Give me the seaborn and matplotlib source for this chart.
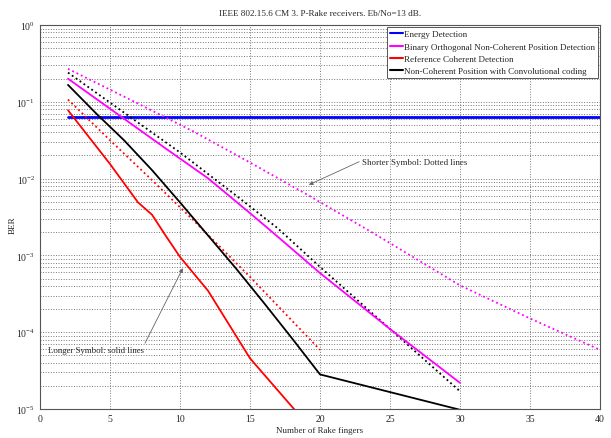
import matplotlib
matplotlib.use("Agg")
import matplotlib.pyplot as plt
from matplotlib.lines import Line2D
from matplotlib.ticker import LogLocator, FixedLocator
import seaborn as sns
import pandas as pd

# ---- data (BER vs number of rake fingers) ----
energy_x = [2, 40]
energy_ber = [0.063, 0.063]

bin_solid_x = [2, 5, 9, 12, 15, 17, 20, 25, 30]
bin_solid_ber = [0.2, 0.0813, 0.0245, 0.0101, 0.00355, 0.00174, 0.000589, 0.00011, 2.19e-5]

bin_dot_x = [2, 6, 11, 15, 19, 24, 27, 30, 35, 40]
bin_dot_ber = [0.269, 0.117, 0.0407, 0.0162, 0.00631, 0.00186, 0.000871, 0.000407, 0.000151, 5.89e-5]

ref_solid_x = [2, 5, 6, 7, 8, 9, 10, 12, 15, 20]
ref_solid_ber = [0.0776, 0.0155, 0.00871, 0.0049, 0.00339, 0.00178, 0.000955, 0.000347, 4.57e-5, 4.07e-6]

ref_dot_x = [2, 5, 8, 11, 15, 20]
ref_dot_ber = [0.107, 0.0316, 0.00955, 0.00282, 0.000525, 5.89e-5]

conv_solid_x = [2, 4, 6, 8, 10, 12, 14, 16, 18, 20, 30]
conv_solid_ber = [0.166, 0.0708, 0.0316, 0.0129, 0.0049, 0.00182, 0.000676, 0.00024, 8.32e-5, 2.82e-5, 9.77e-6]

conv_dot_x = [2, 6, 10, 14, 17, 20, 25, 30]
conv_dot_ber = [0.24, 0.0724, 0.0219, 0.00603, 0.00224, 0.000708, 0.00011, 1.7e-5]

legend_labels = ["Energy Detection",
                 "Binary Orthogonal Non-Coherent Position Detection",
                 "Reference Coherent Detection",
                 "Non-Coherent Position with Convolutional coding"]
colors = ["#0000ff", "#ff00ff", "#ff0000", "#000000"]

title = "IEEE 802.15.6 CM 3. P-Rake receivers. Eb/No=13 dB."
xlabel = "Number of Rake fingers"
ylabel = "BER"
x_ticks = [0, 5, 10, 15, 20, 25, 30, 35, 40]

# ---- style ----
sns.set_style("white")
plt.rcParams["font.family"] = ["Liberation Serif", "DejaVu Serif"]
plt.rcParams["mathtext.fontset"] = "stix"

fig = plt.figure(figsize=(6.11, 4.39), dpi=100)
ax = fig.add_axes([40 / 611, 1 - 410 / 439, 560 / 611, 384 / 439])

series = [
    (energy_x, energy_ber, colors[0], "-"),
    (bin_dot_x, bin_dot_ber, colors[1], ":"),
    (conv_dot_x, conv_dot_ber, colors[3], ":"),
    (bin_solid_x, bin_solid_ber, colors[1], "-"),
    (ref_dot_x, ref_dot_ber, colors[2], ":"),
    (conv_solid_x, conv_solid_ber, colors[3], "-"),
    (ref_solid_x, ref_solid_ber, colors[2], "-"),
]
for xs, ys, c, ls in series:
    df = pd.DataFrame({"x": xs, "y": ys})
    lw = 2.0 if c == colors[0] else 1.3
    sns.lineplot(data=df, x="x", y="y", ax=ax, color=c, linestyle=ls,
                 linewidth=lw, estimator=None, sort=False, legend=False)

ax.set_yscale("log")
ax.set_xlim(0, 40)
ax.set_ylim(1e-5, 1)
ax.xaxis.set_major_locator(FixedLocator(x_ticks))
ax.yaxis.set_major_locator(LogLocator(base=10, numticks=10))
ax.yaxis.set_minor_locator(LogLocator(base=10, subs=range(2, 10), numticks=100))
ax.grid(True, which="major", color="#777777", linestyle=":", linewidth=0.7)
ax.grid(True, which="minor", axis="y", color="#777777", linestyle=":", linewidth=0.7)
ax.tick_params(which="both", direction="in", labelsize=7, length=3, width=0.5)
ax.tick_params(which="minor", length=1.5)
for s in ax.spines.values():
    s.set_color("#555555")
    s.set_linewidth(0.8)

ax.set_title(title, fontsize=6.6, pad=7)
ax.set_xlabel(xlabel, fontsize=6.4, labelpad=2)
ax.set_ylabel(ylabel, fontsize=6.6)
ax.yaxis.set_label_coords(-(40 - 17) / 560, 0.48)

handles = [Line2D([0], [0], color=c, lw=1.5) for c in colors]
leg = ax.legend(handles, legend_labels, loc="upper right", fontsize=6.5,
                handlelength=1.4, handletextpad=0.15, borderpad=0.3,
                labelspacing=0.45, fancybox=False, framealpha=1,
                borderaxespad=0.25)
leg.get_frame().set_edgecolor("#555555")
leg.get_frame().set_linewidth(0.7)

arrow = dict(arrowstyle="-|>", color="#666666", lw=0.6, mutation_scale=6,
             shrinkA=0, shrinkB=0)
ax.annotate("", xy=(19.2, 0.0083), xytext=(22.8, 0.0166), arrowprops=arrow)
ax.text(23.0, 0.0166, "Shorter Symbol: Dotted lines", fontsize=6.4,
        ha="left", va="center")
ax.annotate("", xy=(10.2, 6.8e-4), xytext=(7.5, 7.2e-5), arrowprops=arrow)
ax.text(0.55, 5.9e-5, "Longer Symbol: solid lines", fontsize=6.3,
        ha="left", va="center")

fig.savefig("out.png", dpi=100)
